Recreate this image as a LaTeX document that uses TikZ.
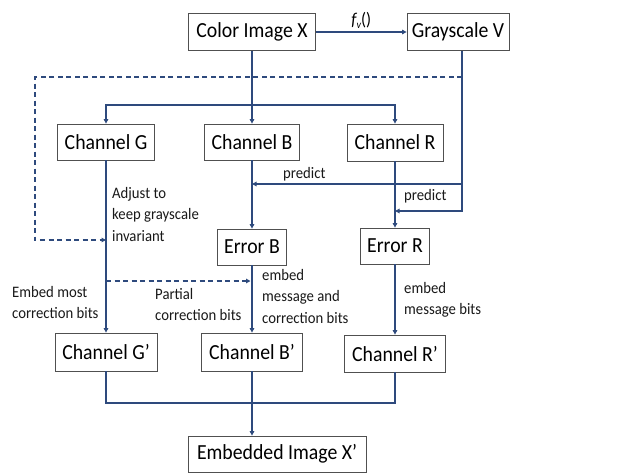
\documentclass[tikz,border=0pt]{standalone}
\usepackage{fontspec}
\setmainfont{Carlito}[FakeStretch=0.92]
\usetikzlibrary{arrows.meta,calc}
\definecolor{navy}{HTML}{2E4A7D}
\definecolor{boxgray}{HTML}{505050}
\begin{document}
\begin{tikzpicture}[x=1pt,y=-1pt,
  box/.style={draw=boxgray,line width=0.8pt,fill=white,inner sep=0pt,font=\fontsize{21.5}{25}\selectfont},
  conn/.style={draw=navy,line width=1.2pt},
  arr/.style={conn,-{Triangle[width=4.5pt,length=4.5pt]}},
  darr/.style={arr,dash pattern=on 5pt off 3.5pt},
  lab/.style={anchor=north west,inner sep=0pt,align=left,font=\fontsize{16}{21.5}\selectfont,text=black!90}]
\useasboundingbox[fill=white] (0,0) rectangle (625,474);
% boxes
\node[box,minimum width=127pt,minimum height=37pt] (cix) at (252,32) {Color Image X};
\node[box,minimum width=102pt,minimum height=37pt] (gv) at (458,32) {Grayscale V};
\node[box,minimum width=97pt,minimum height=36pt] (chG) at (106,142) {Channel G};
\node[box,minimum width=95pt,minimum height=36pt] (chB) at (252,142) {Channel B};
\node[box,minimum width=96pt,minimum height=37pt] (chR) at (395,142.5) {Channel R};
\node[box,minimum width=69pt,minimum height=36pt] (erB) at (252,247) {Error B};
\node[box,minimum width=69pt,minimum height=36pt] (erR) at (395,246) {Error R};
\node[box,minimum width=102pt,minimum height=38pt] (chG2) at (106,352) {Channel G’};
\node[box,minimum width=101pt,minimum height=38pt] (chB2) at (252,352) {Channel B’};
\node[box,minimum width=101pt,minimum height=37pt] (chR2) at (395,353.5) {Channel R’};
\node[box,minimum width=178pt,minimum height=36pt] (emb) at (277,454) {Embedded Image X’};
% coordinates
\coordinate (split) at (252,105);
\coordinate (gvo) at ($(gv.south)+(4,0)$);
\coordinate (join) at (252,403);
% top connectors
\draw[arr] (cix) -- node[above=-0.5pt,text=black,font=\fontsize{18}{20}\selectfont]{\itshape f\raisebox{-3pt}{\fontsize{11}{11}\selectfont v}\upshape()} (gv);
\draw[conn] (cix.south) -- (split);
\draw[arr] (split) -- (chB.north);
\draw[arr] (split) -| (chG.north);
\draw[arr] (split) -| (chR.north);
% grayscale line and predict
\draw[conn] (gvo) -- (gvo |- 0,184);
\draw[arr] (gvo |- 0,184) -- (chB.south |- 0,184);
\draw[arr] (gvo |- 0,184) |- (chR.south |- 0,211);
% dashed feedback
\draw[darr] (gvo |- 0,77) -- (35,77) -- (35,240) -- (chG.south |- 0,240);
\draw[darr] (chG.south |- 0,281) -- ($(chB.south |- 0,281)+(-1.5,0)$);
% column arrows
\draw[arr] (chG) -- (chG2);
\draw[arr] (chB) -- (erB);
\draw[arr] (chR) -- (erR);
\draw[arr] (erB) -- (chB2);
\draw[arr] (erR) -- (chR2);
% bottom join
\draw[conn] (chG2.south) |- (join) -| (chR2.south);
\draw[arr] (chB2.south) -- (chB2.south |- emb.north);
% labels
\node[lab] (l1) at (112,187) {Adjust to\\keep grayscale\\invariant};
\node[lab] (l2) at (12,286) {Embed most\\correction bits};
\node[lab] (l3) at (155,288) {Partial\\correction bits};
\node[lab] (l4) at (262,269) {embed\\message and\\correction bits};
\node[lab] (l5) at (404,282) {embed\\message bits};
\node[lab] (l6) at (283,167) {predict};
\node[lab] (l7) at (404,189) {predict};
\end{tikzpicture}
\end{document}
